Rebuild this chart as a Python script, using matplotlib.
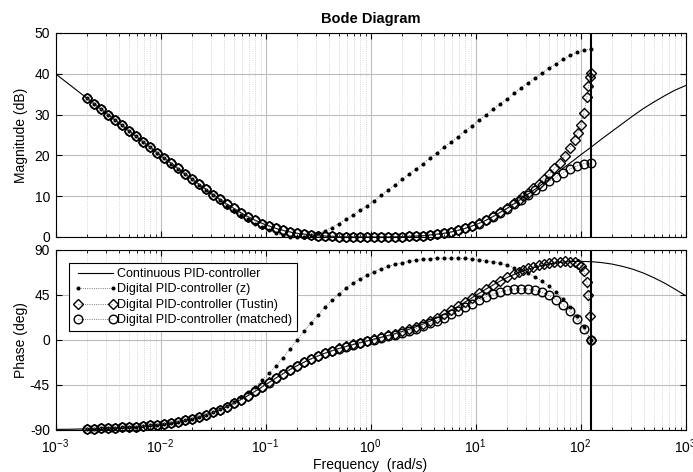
import numpy as np
import matplotlib
matplotlib.use("Agg")
import matplotlib.pyplot as plt
from matplotlib.ticker import LogLocator, NullFormatter

plt.rcParams['font.family'] = ['Liberation Sans', 'DejaVu Sans']
plt.rcParams['mathtext.fontset'] = 'custom'
plt.rcParams['mathtext.rm'] = 'Liberation Sans'
plt.rcParams['mathtext.it'] = 'Liberation Sans:italic'
plt.rcParams['mathtext.bf'] = 'Liberation Sans:bold'
plt.rcParams['axes.unicode_minus'] = False

w_nyq = 125.66  # Nyquist frequency pi/Ts, Ts = 0.025 s [rad/s]

# continuous PID-controller
w_c = [1e-3, 1.259e-3, 1.585e-3, 1.995e-3, 2.512e-3, 3.162e-3, 3.981e-3, 5.012e-3, 6.310e-3, 7.943e-3,
       1e-2, 1.259e-2, 1.585e-2, 1.995e-2, 2.512e-2, 3.162e-2, 3.981e-2, 5.012e-2, 6.310e-2, 7.943e-2,
       0.1, 0.1259, 0.1585, 0.1995, 0.2512, 0.3162, 0.3981, 0.5012, 0.6310, 0.7943,
       1.0, 1.259, 1.585, 1.995, 2.512, 3.162, 3.981, 5.012, 6.310, 7.943,
       10.0, 12.59, 15.85, 19.95, 25.12, 31.62, 39.81, 50.12, 63.10, 79.43,
       100.0, 125.9, 158.5, 199.5, 251.2, 316.2, 398.1, 501.2, 631.0, 794.3,
       1000.0]
mag_c = [40.0, 38.0, 36.0, 34.0, 32.0, 30.0, 28.0, 26.0, 24.0, 22.0,
         20.0, 18.1, 16.1, 14.2, 12.3, 10.4, 8.6, 7.0, 5.4, 4.1,
         3.0, 2.1, 1.4, 0.9, 0.6, 0.3, 0.2, 0.1, 0.0, 0.0,
         0.0, 0.0, 0.0, 0.1, 0.2, 0.3, 0.6, 0.9, 1.4, 2.1,
         3.0, 4.1, 5.5, 7.0, 8.7, 10.5, 12.3, 14.2, 16.2, 18.1,
         20.1, 22.0, 24.0, 25.9, 27.8, 29.7, 31.5, 33.1, 34.6, 36.0,
         37.1]
ph_c = [-89.4, -89.3, -89.1, -88.9, -88.6, -88.2, -87.7, -87.1, -86.4, -85.5,
        -84.3, -82.8, -81.0, -78.7, -75.9, -72.4, -68.3, -63.3, -57.6, -51.4,
        -44.7, -38.0, -31.6, -25.7, -20.5, -15.9, -11.9, -8.5, -5.4, -2.7,
        0.0, 2.7, 5.4, 8.5, 11.9, 15.9, 20.4, 25.6, 31.5, 37.8,
        44.4, 50.9, 57.0, 62.4, 67.0, 70.8, 73.7, 76.0, 77.5, 78.4,
        78.6, 78.3, 77.4, 75.9, 73.6, 70.7, 66.9, 62.2, 56.9, 50.8,
        44.4]

# digital controllers (z and matched) share this grid
w_d = [0.001992, 0.002322, 0.002707, 0.003157, 0.003680, 0.004291, 0.005003, 0.005833, 0.006801, 0.007929, 0.009244,
       0.01078, 0.01257, 0.01465, 0.01708, 0.01992, 0.02322, 0.02707, 0.03157, 0.03680, 0.04291, 0.05003, 0.05833, 0.06801, 0.07929, 0.09244,
       0.1078, 0.1257, 0.1465, 0.1708, 0.1992, 0.2322, 0.2707, 0.3157, 0.3680, 0.4291, 0.5003, 0.5833, 0.6801, 0.7929, 0.9244,
       1.078, 1.257, 1.465, 1.708, 1.992, 2.322, 2.707, 3.157, 3.680, 4.291, 5.003, 5.833, 6.801, 7.929, 9.244,
       10.78, 12.57, 14.65, 17.08, 19.92, 23.22, 27.07, 31.57, 36.80, 42.91, 50.03, 58.33, 68.01, 79.29, 92.44,
       107.8, 125.66]

mag_z = [34.0, 32.7, 31.4, 30.0, 28.7, 27.4, 26.0, 24.7, 23.4, 22.0, 20.7, 19.4, 18.0, 16.7, 15.4,
         14.1, 12.8, 11.5, 10.2, 9.0, 7.7, 6.5, 5.4, 4.3, 3.3, 2.4, 1.6, 0.9, 0.4, 0.1,
         0.0, 0.1, 0.4, 0.9, 1.5, 2.3, 3.3, 4.3, 5.4, 6.5, 7.7, 8.9, 10.2, 11.5, 12.8,
         14.1, 15.4, 16.7, 18.0, 19.3, 20.7, 22.0, 23.3, 24.6, 26.0, 27.3, 28.6, 30.0, 31.3, 32.6,
         33.9, 35.2, 36.5, 37.8, 39.0, 40.2, 41.4, 42.5, 43.6, 44.5, 45.3, 45.8, 46.1]
ph_z = [-88.9, -88.8, -88.5, -88.2, -87.9, -87.5, -87.1, -86.7, -86.1, -85.5, -84.7, -83.8, -82.8, -81.6, -80.2,
        -78.6, -76.8, -74.6, -72.1, -69.2, -65.8, -61.9, -57.5, -52.5, -46.8, -40.4, -33.4, -25.7, -17.6, -9.0,
        -0.2, 8.5, 17.1, 25.2, 32.9, 39.9, 46.2, 51.9, 56.9, 61.2, 65.0, 68.3, 71.1, 73.5, 75.5,
        77.2, 78.5, 79.7, 80.5, 81.2, 81.6, 81.9, 81.9, 81.8, 81.5, 80.9, 80.2, 79.2, 78.0, 76.5,
        74.6, 72.4, 69.8, 66.7, 63.1, 58.8, 53.8, 47.9, 41.0, 33.0, 23.7, 12.7, 0.0]

mag_m = [34.0, 32.7, 31.4, 30.0, 28.7, 27.4, 26.0, 24.7, 23.4, 22.0, 20.7, 19.4, 18.1, 16.8, 15.5,
         14.2, 12.9, 11.7, 10.4, 9.2, 8.1, 7.0, 5.9, 5.0, 4.1, 3.3, 2.7, 2.1, 1.6, 1.2,
         0.9, 0.7, 0.5, 0.3, 0.2, 0.2, 0.1, 0.1, 0.0, 0.0, 0.0, 0.0, 0.0, 0.0, 0.1,
         0.1, 0.2, 0.2, 0.3, 0.5, 0.7, 0.9, 1.2, 1.6, 2.1, 2.7, 3.3, 4.1, 5.0, 5.9,
         6.9, 8.0, 9.1, 10.2, 11.4, 12.5, 13.7, 14.7, 15.8, 16.7, 17.4, 18.0, 18.2]
ph_m = [-88.9, -88.7, -88.5, -88.2, -87.9, -87.5, -87.1, -86.7, -86.1, -85.5, -84.7, -83.9, -82.8, -81.7, -80.3,
        -78.7, -76.9, -74.9, -72.5, -69.8, -66.8, -63.4, -59.7, -55.7, -51.5, -47.1, -42.6, -38.1, -33.8, -29.7,
        -25.9, -22.3, -19.1, -16.1, -13.5, -11.0, -8.8, -6.8, -4.9, -3.2, -1.5, 0.2, 1.8, 3.6, 5.3,
        7.2, 9.2, 11.4, 13.9, 16.5, 19.3, 22.4, 25.8, 29.2, 32.8, 36.4, 39.8, 43.0, 45.8, 48.1,
        49.8, 50.9, 51.3, 50.9, 49.7, 47.6, 44.5, 40.4, 35.1, 28.6, 20.7, 11.2, 0.0]

# Tustin: same grid up to 23 rad/s, denser close to the Nyquist frequency
w_t = w_d[:62] + [25.70, 28.51, 31.62, 35.48, 39.81, 44.67, 50.12, 56.23, 63.10, 70.79,
                  79.43, 87.70, 94.19, 100.0, 107.4, 115.1, 119.1, 122.7, 125.66]
mag_t = [34.0, 32.7, 31.4, 30.0, 28.7, 27.4, 26.0, 24.7, 23.4, 22.0, 20.7, 19.4, 18.1, 16.8, 15.5,
         14.2, 12.9, 11.7, 10.4, 9.2, 8.1, 7.0, 5.9, 5.0, 4.1, 3.3, 2.7, 2.1, 1.6, 1.2,
         0.9, 0.7, 0.5, 0.3, 0.2, 0.2, 0.1, 0.1, 0.0, 0.0, 0.0, 0.0, 0.0, 0.0, 0.1,
         0.1, 0.2, 0.2, 0.3, 0.5, 0.7, 0.9, 1.2, 1.6, 2.1, 2.7, 3.4, 4.2, 5.1, 6.1,
         7.2, 8.3, 9.1, 10.0, 10.9, 12.0, 13.1, 14.2, 15.4, 16.8, 18.2, 19.9, 21.8, 23.8, 25.6,
         27.5, 30.3, 34.3, 37.0, 39.3, 40.1]
ph_t = [-88.9, -88.7, -88.4, -88.2, -87.9, -87.5, -87.1, -86.6, -86.1, -85.5, -84.7, -83.8, -82.8, -81.7, -80.3,
        -78.7, -76.9, -74.8, -72.5, -69.8, -66.7, -63.4, -59.7, -55.7, -51.4, -47.0, -42.5, -38.1, -33.7, -29.6,
        -25.7, -22.2, -18.9, -15.9, -13.2, -10.8, -8.5, -6.5, -4.5, -2.7, -0.9, 0.9, 2.6, 4.5, 6.4,
        8.5, 10.7, 13.2, 15.8, 18.8, 22.1, 25.6, 29.5, 33.6, 37.9, 42.3, 46.7, 51.1, 55.3, 59.2,
        62.8, 66.1, 68.0, 69.9, 71.6, 73.2, 74.7, 75.9, 77.0, 77.8, 78.4, 78.6, 78.4, 77.5, 76.1,
        74.1, 69.4, 58.0, 45.1, 24.3, 0.0]


def draw_bode(ax, yc, yz, yt, ym):
    ax.semilogx(w_c, yc, '-', color='k', lw=0.8, label='Continuous PID-controller')
    ax.semilogx(w_d, yz, ':', color='0.35', lw=0.6, marker='.', ms=3.8, mfc='k', mec='k',
                clip_on=False, label='Digital PID-controller (z)')
    ax.semilogx(w_t, yt, ':', color='0.35', lw=0.6, marker='D', ms=5.0, mfc='none', mec='k', mew=1.0,
                clip_on=False, label='Digital PID-controller (Tustin)')
    ax.semilogx(w_d, ym, ':', color='0.35', lw=0.6, marker='o', ms=6.2, mfc='none', mec='k', mew=1.0,
                clip_on=False, label='Digital PID-controller (matched)')
    ax.axvline(w_nyq, color='k', lw=1.5)
    ax.set_xlim(1e-3, 1e3)
    ax.xaxis.set_major_locator(LogLocator(base=10, numticks=12))
    ax.xaxis.set_minor_locator(LogLocator(base=10, subs=range(2, 10), numticks=12))
    ax.xaxis.set_minor_formatter(NullFormatter())
    ax.grid(True, which='major', color='#bdbdbd', lw=0.8, ls='-')
    ax.grid(True, which='minor', axis='x', color='#c8c8c8', lw=0.6, ls=':')
    ax.set_axisbelow(True)
    ax.tick_params(which='both', direction='in', top=True, right=True, labelsize=10)
    ax.tick_params(which='major', length=4.5, width=0.8)
    ax.tick_params(which='minor', length=2.5, width=0.6)
    ax.tick_params(axis='y', pad=4)
    ax.tick_params(axis='x', pad=5)
    for sp in ax.spines.values():
        sp.set_linewidth(0.8)


fig = plt.figure(figsize=(6.93, 4.72), dpi=100)
ax1 = fig.add_axes([0.0801, 0.4979, 0.9091, 0.4322])
ax2 = fig.add_axes([0.0801, 0.0890, 0.9091, 0.3814])

draw_bode(ax1, mag_c, mag_z, mag_t, mag_m)
ax1.set_ylim(0, 50)
ax1.set_yticks([0, 10, 20, 30, 40, 50])
ax1.tick_params(labelbottom=False)
ax1.set_ylabel('Magnitude (dB)', fontsize=10)
ax1.yaxis.set_label_coords(-0.044, 0.5)
ax1.set_title('Bode Diagram', fontsize=10.5, fontweight='bold', pad=7.4)

draw_bode(ax2, ph_c, ph_z, ph_t, ph_m)
ax2.set_ylim(-90, 90)
ax2.set_yticks([-90, -45, 0, 45, 90])
ax2.set_ylabel('Phase (deg)', fontsize=10)
ax2.yaxis.set_label_coords(-0.044, 0.5)
ax2.set_xlabel('Frequency  (rad/s)', fontsize=10)
ax2.xaxis.set_label_coords(0.5, -0.153)

leg = ax2.legend(loc='upper left', bbox_to_anchor=(0.0214, 0.928), borderaxespad=0, fontsize=9,
                 numpoints=2, handlelength=3.4, handletextpad=0.05, labelspacing=0.28, borderpad=0.4,
                 fancybox=False, framealpha=1, edgecolor='k')
leg.get_frame().set_linewidth(0.8)

fig.savefig('out.png', dpi=100)
